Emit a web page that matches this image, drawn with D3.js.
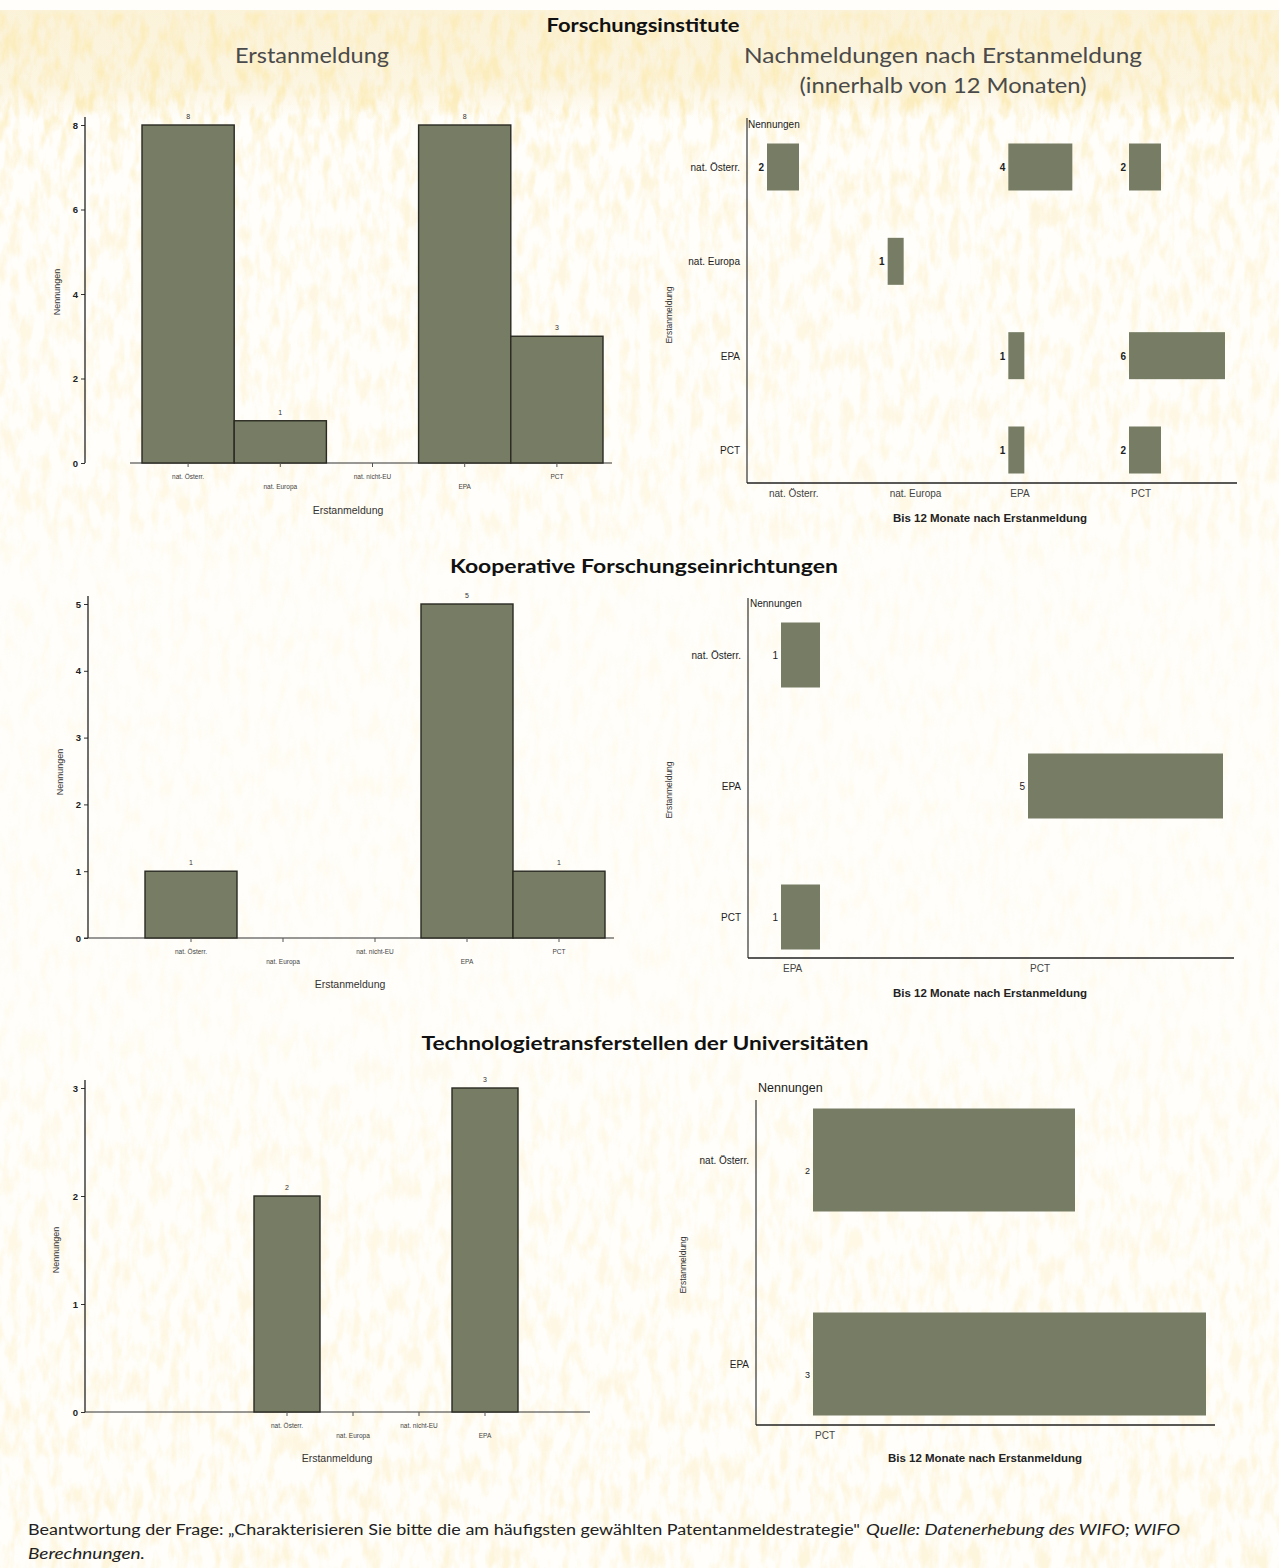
<!DOCTYPE html>
<html><head><meta charset="utf-8">
<script src="https://cdn.jsdelivr.net/npm/d3@7"></script>
<style>
html,body{margin:0;padding:0;background:#fff;}
svg{display:block;}
</style></head>
<body>
<script>
// ---------- DATA ----------
const erstCats = ["nat. Österr.", "nat. Europa", "nat. nicht-EU", "EPA", "PCT"];
const fiErst = [8, 1, 0, 8, 3];
const fiTicks = [0, 2, 4, 6, 8];

const koErst = [1, 0, 0, 5, 1];
const koTicks = [0, 1, 2, 3, 4, 5];

const ttCats = ["nat. Österr.", "nat. Europa", "nat. nicht-EU", "EPA"];
const ttErst = [2, 0, 0, 3];
const ttTicks = [0, 1, 2, 3];

const fiRows = ["nat. Österr.", "nat. Europa", "EPA", "PCT"];
const fiCols = ["nat. Österr.", "nat. Europa", "EPA", "PCT"];
const fiNach = [[2, 0, 4, 2], [0, 1, 0, 0], [0, 0, 1, 6], [0, 0, 1, 2]];

const koRows = ["nat. Österr.", "EPA", "PCT"];
const koCols = ["EPA", "PCT"];
const koNach = [[1, 0], [0, 5], [1, 0]];

const ttRows = ["nat. Österr.", "EPA"];
const ttCols = ["PCT"];
const ttNach = [[2], [3]];

const sectionTitles = ["Forschungsinstitute", "Kooperative Forschungseinrichtungen", "Technologietransferstellen der Universitäten"];

// ---------- SETUP ----------
const W = 1279, H = 1568;
const BAR = "#767d64";
const TF = "'Liberation Sans', Arial, sans-serif";
const HF = "Lato, 'Open Sans', sans-serif";

const svg = d3.select("body").append("svg").attr("width", W).attr("height", H);
const defs = svg.append("defs");

// background texture (mottled specks)
const filt = defs.append("filter").attr("id", "tex").attr("x", 0).attr("y", 0).attr("width", "100%").attr("height", "100%");
filt.append("feTurbulence").attr("type", "fractalNoise").attr("baseFrequency", "0.1 0.035").attr("numOctaves", 3).attr("seed", 11);
filt.append("feColorMatrix").attr("type", "matrix")
  .attr("values", "0 0 0 0 0.97  0 0 0 0 0.85  0 0 0 0 0.52  3.0 0 0 0 -1.25");
const mg = defs.append("linearGradient").attr("id", "mg").attr("x1", 0).attr("y1", 0).attr("x2", 0).attr("y2", 1);
[[0, 0], [0.006, 0], [0.01, 1], [0.065, 1], [0.085, 0.6], [0.15, 0.45], [0.33, 0.35], [0.36, 0.15], [0.65, 0.15], [0.72, 0.3], [0.92, 0.45], [1, 0.5]]
  .forEach(([o, v]) => mg.append("stop").attr("offset", o).attr("stop-color", "#fff").attr("stop-opacity", v));
const mask = defs.append("mask").attr("id", "bgmask");
mask.append("rect").attr("width", W).attr("height", H).attr("fill", "url(#mg)");
const tg = defs.append("linearGradient").attr("id", "tg").attr("x1", 0).attr("y1", 0).attr("x2", 0).attr("y2", 1);
[[0, 0.45], [0.7, 0.35], [1, 0]].forEach(([o, v]) => tg.append("stop").attr("offset", o).attr("stop-color", "#f6e4b0").attr("stop-opacity", v));

svg.append("rect").attr("width", W).attr("height", H).attr("fill", "#fffefb");
svg.append("rect").attr("x", 0).attr("y", 10).attr("width", W).attr("height", 110).attr("fill", "url(#tg)");
svg.append("rect").attr("width", W).attr("height", H).attr("filter", "url(#tex)").attr("mask", "url(#bgmask)");

// ---------- TITLES ----------
function txt(x, y, s, o = {}) {
  const t = svg.append("text").attr("x", x).attr("y", y).text(s)
    .attr("font-family", o.family || TF).attr("font-size", o.size || 10)
    .attr("font-weight", o.weight || "normal").attr("fill", o.fill || "#222")
    .attr("text-anchor", o.anchor || "middle");
  if (o.style) t.attr("font-style", o.style);
  if (o.len) t.attr("textLength", o.len).attr("lengthAdjust", "spacingAndGlyphs");
  if (o.rot) t.attr("transform", `rotate(-90,${x},${y})`);
  return t;
}
txt(643, 32, sectionTitles[0], {family: HF, size: 19, weight: "bold", fill: "#111", len: 193});
txt(312, 63, "Erstanmeldung", {family: HF, size: 21, fill: "#4a4a4a", len: 154});
txt(943, 63, "Nachmeldungen nach Erstanmeldung", {family: HF, size: 21, fill: "#4a4a4a", len: 398});
txt(943, 93, "(innerhalb von 12 Monaten)", {family: HF, size: 21, fill: "#4a4a4a", len: 287});
txt(644, 573, sectionTitles[1], {family: HF, size: 19, weight: "bold", fill: "#111", len: 388});
txt(645, 1050, sectionTitles[2], {family: HF, size: 19, weight: "bold", fill: "#111", len: 447});

// ---------- BAR CHART ----------
function barChart(c) {
  const g = svg.append("g");
  const y = d3.scaleLinear().domain([0, d3.max(c.ticks)]).range([c.base, c.top]);
  const x = d3.scaleBand().domain(c.cats).range(c.xr).padding(0);
  const data = c.cats.map((k, i) => ({k, v: c.vals[i]}));

  g.append("line").attr("x1", c.line[0]).attr("x2", c.line[1]).attr("y1", c.base).attr("y2", c.base)
    .attr("stroke", "#333").attr("stroke-width", 1.2);
  g.selectAll("rect.b").data(data).join("rect").attr("class", "b")
    .attr("x", d => x(d.k)).attr("width", x.bandwidth())
    .attr("y", d => y(d.v)).attr("height", d => y(0) - y(d.v))
    .attr("fill", BAR).attr("stroke", "#2a2a22").attr("stroke-width", 1.4);
  g.selectAll("text.v").data(data.filter(d => d.v > 0)).join("text").attr("class", "v")
    .attr("x", d => x(d.k) + x.bandwidth() / 2).attr("y", d => y(d.v) - 6)
    .attr("text-anchor", "middle").attr("font-family", TF).attr("font-size", 7).attr("fill", "#333")
    .text(d => d.v);
  const ya = g.append("g").attr("transform", `translate(${c.ax},0)`)
    .call(d3.axisLeft(y).tickValues(c.ticks).tickSize(4).tickFormat(d3.format("d")));
  ya.select(".domain").remove();
  ya.selectAll("text").attr("font-family", TF).attr("font-size", 9.5).attr("font-weight", "bold").attr("fill", "#222");
  ya.selectAll("line").attr("stroke", "#333");
  g.append("line").attr("x1", c.ax).attr("x2", c.ax).attr("y1", c.axTop).attr("y2", c.base)
    .attr("stroke", "#222").attr("stroke-width", 1.3);
  const xa = g.append("g").attr("transform", `translate(0,${c.base})`)
    .call(d3.axisBottom(x).tickSize(4).tickSizeOuter(0));
  xa.select(".domain").remove();
  xa.selectAll("line").attr("stroke", "#555");
  xa.selectAll("text").attr("font-family", TF).attr("font-size", 6.5).attr("fill", "#444")
    .attr("y", (d, i) => i % 2 ? 21 : 11);
  txt(c.xt[0], c.xt[1], "Erstanmeldung", {size: 10.5, fill: "#333"});
  txt(c.yt[0], c.yt[1], "Nennungen", {size: 9, fill: "#333", rot: true});
}

barChart({cats: erstCats, vals: fiErst, ticks: fiTicks, base: 463, top: 125, xr: [142, 603],
  line: [130, 612], ax: 85, axTop: 117, xt: [348, 514], yt: [60, 292]});
barChart({cats: erstCats, vals: koErst, ticks: koTicks, base: 938, top: 604, xr: [145, 605],
  line: [84, 614], ax: 88, axTop: 596, xt: [350, 988], yt: [63, 772]});
barChart({cats: ttCats, vals: ttErst, ticks: ttTicks, base: 1412, top: 1088, xr: [254, 518],
  line: [85, 590], ax: 85, axTop: 1080, xt: [337, 1462], yt: [59, 1250]});

// ---------- CROSS CHART ----------
function crossChart(c) {
  const g = svg.append("g");
  const ry = d3.scalePoint().domain(c.rows).range(c.rowR);
  const cx = d3.scalePoint().domain(c.cols).range(c.colR);
  const w = d3.scaleLinear().domain([0, 1]).range([0, c.unit]);
  const hh = c.rowH;
  const cells = [];
  c.rows.forEach((r, i) => c.cols.forEach((k, j) => {
    if (c.m[i][j] > 0) cells.push({r, k, v: c.m[i][j]});
  }));
  g.selectAll("rect").data(cells).join("rect")
    .attr("x", d => cx(d.k)).attr("y", d => ry(d.r) - hh / 2)
    .attr("width", d => w(d.v)).attr("height", hh).attr("fill", BAR);
  g.selectAll("text.v").data(cells).join("text").attr("class", "v")
    .attr("x", d => cx(d.k) - 3).attr("y", d => ry(d.r) + c.vdy)
    .attr("text-anchor", "end").attr("font-family", TF).attr("font-size", c.vs)
    .attr("font-weight", c.vw).attr("fill", "#222").text(d => d.v);
  g.append("line").attr("x1", c.ax).attr("x2", c.ax).attr("y1", c.axTop).attr("y2", c.base)
    .attr("stroke", "#333").attr("stroke-width", 1.2);
  g.append("line").attr("x1", c.ax).attr("x2", c.xEnd).attr("y1", c.base).attr("y2", c.base)
    .attr("stroke", "#222").attr("stroke-width", 1.5);
  g.selectAll("text.r").data(c.rows).join("text").attr("class", "r")
    .attr("x", c.ax - 7).attr("y", d => ry(d) + 4).attr("text-anchor", "end")
    .attr("font-family", TF).attr("font-size", c.ls).attr("fill", "#222").text(d => d);
  g.selectAll("text.c").data(c.cols).join("text").attr("class", "c")
    .attr("x", d => cx(d) + 2).attr("y", c.base + 14).attr("text-anchor", "start")
    .attr("font-family", TF).attr("font-size", c.ls).attr("fill", "#444").text(d => d);
  txt(c.nn[0], c.nn[1], "Nennungen", {size: c.nns, fill: "#222", anchor: "start"});
  txt(c.xt[0], c.xt[1], "Bis 12 Monate nach Erstanmeldung", {size: 10, fill: "#222", weight: "bold", len: 194});
  txt(c.yt[0], c.yt[1], "Erstanmeldung", {size: 8.5, fill: "#333", rot: true});
}

crossChart({rows: fiRows, cols: fiCols, m: fiNach, rowR: [167, 450], colR: [767, 1129], unit: 16, rowH: 47,
  ax: 747, axTop: 118, base: 483, xEnd: 1237, vs: 10, vw: "bold", vdy: 4, ls: 10,
  nn: [748, 128], nns: 10, xt: [990, 522], yt: [672, 315]});
crossChart({rows: koRows, cols: koCols, m: koNach, rowR: [655, 917], colR: [781, 1028], unit: 39, rowH: 65,
  ax: 748, axTop: 598, base: 958, xEnd: 1234, vs: 10, vw: "normal", vdy: 4, ls: 10,
  nn: [750, 607], nns: 10, xt: [990, 997], yt: [672, 790]});
crossChart({rows: ttRows, cols: ttCols, m: ttNach, rowR: [1160, 1364], colR: [813, 813], unit: 131, rowH: 103,
  ax: 756, axTop: 1100, base: 1425, xEnd: 1215, vs: 9, vw: "normal", vdy: 14, ls: 10,
  nn: [758, 1092], nns: 12.5, xt: [985, 1462], yt: [686, 1265]});

// ---------- FOOTNOTE ----------
txt(28, 1535, "Beantwortung der Frage: „Charakterisieren Sie bitte die am häufigsten gewählten Patentanmeldestrategie\"", {family: HF, size: 14.5, fill: "#222", anchor: "start", len: 832});
txt(866, 1535, "Quelle: Datenerhebung des WIFO; WIFO", {family: HF, size: 14.5, fill: "#222", anchor: "start", style: "italic", len: 314});
txt(28, 1559, "Berechnungen.", {family: HF, size: 14.5, fill: "#222", anchor: "start", style: "italic", len: 117});
</script>
</body></html>
